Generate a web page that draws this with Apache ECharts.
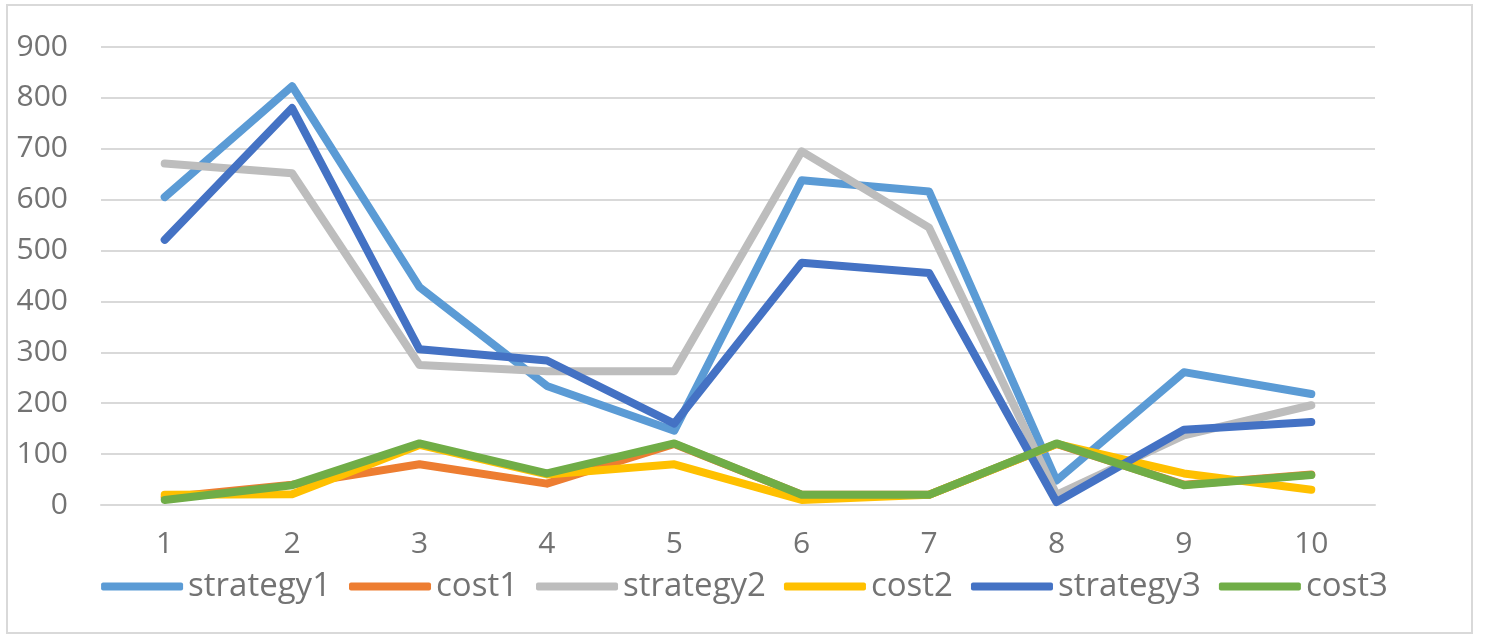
<!DOCTYPE html>
<html>
<head>
<meta charset="utf-8">
<script src="https://cdn.jsdelivr.net/npm/echarts@6/dist/echarts.min.js"></script>
<style>
	html, body { margin: 0; padding: 0; background: #fff; }
	#chart { width: 1489px; height: 640px; }
</style>
</head>
<body>
<div id="chart"></div>
<script>
// x categories
var xData = ['1', '2', '3', '4', '5', '6', '7', '8', '9', '10'];

// series values
var strategy1 = [605, 823, 428, 234, 146, 638, 616, 48, 261, 218];
var cost1     = [15, 40, 80, 42, 120, 20, 20, 120, 40, 60];
var strategy2 = [671, 652, 275, 263, 263, 695, 545, 20, 137, 196];
var cost2     = [20, 21, 118, 60, 80, 10, 20, 120, 62, 30];
var strategy3 = [521, 780, 306, 284, 160, 476, 456, 6, 148, 163];
var cost3     = [10, 39, 121, 62, 121, 20, 20, 121, 39, 59];

var seriesNames = ['strategy1', 'cost1', 'strategy2', 'cost2', 'strategy3', 'cost3'];
var seriesData = [strategy1, cost1, strategy2, cost2, strategy3, cost3];
var colors = ['#5b9bd5', '#ed7d31', '#bdbdbd', '#ffc000', '#4472c4', '#70ad47'];

var textColor = '#737373';
var fontName = '"Open Sans", "DejaVu Sans", sans-serif';

var mychart = echarts.init(document.getElementById('chart'), null, { renderer: 'canvas' });

var series = seriesNames.map(function (name, i) {
	return {
		name: name,
		type: 'line',
		data: seriesData[i],
		symbol: 'none',
		lineStyle: { width: 8, color: colors[i], cap: 'round', join: 'round' },
		itemStyle: { color: colors[i] }
	};
});

var option = {
	animation: false,
	backgroundColor: '#fff',
	color: colors,
	graphic: [{
		type: 'rect',
		shape: { x: 7, y: 5, width: 1465, height: 628 },
		style: { fill: 'none', stroke: '#d9d9d9', lineWidth: 2 },
		silent: true
	}],
	grid: {
		left: 101,
		right: 114,
		top: 47,
		bottom: 135
	},
	legend: {
		data: seriesNames,
		bottom: 32,
		left: 'center',
		icon: 'roundRect',
		itemWidth: 82,
		itemHeight: 8,
		itemGap: 18,
		textStyle: { color: textColor, fontSize: 33, fontFamily: fontName }
	},
	xAxis: {
		type: 'category',
		boundaryGap: true,
		data: xData,
		axisLine: { show: true, lineStyle: { color: '#d9d9d9', width: 2 } },
		axisTick: { show: false },
		axisLabel: { color: textColor, fontSize: 30, fontFamily: fontName, margin: 24 }
	},
	yAxis: {
		type: 'value',
		min: 0,
		max: 900,
		interval: 100,
		axisLine: { show: false },
		axisTick: { show: false },
		axisLabel: { color: textColor, fontSize: 30, fontFamily: fontName, margin: 33 },
		splitLine: { lineStyle: { color: '#d9d9d9', width: 2 } }
	},
	series: series
};

mychart.setOption(option);
</script>
</body>
</html>
